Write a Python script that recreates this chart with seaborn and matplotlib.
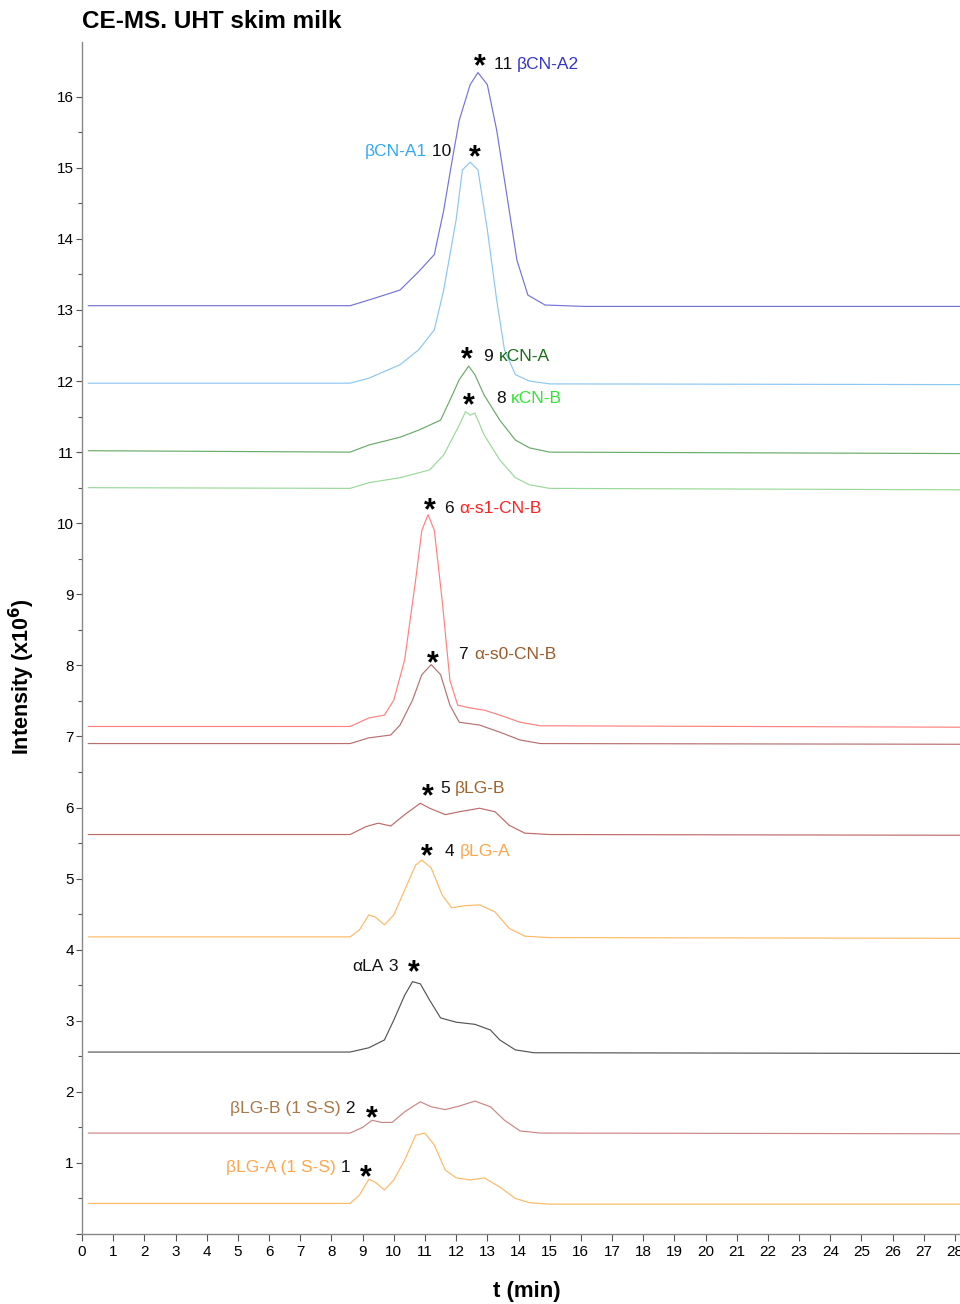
import matplotlib
matplotlib.use("Agg")
import matplotlib.pyplot as plt
import seaborn as sns
import pandas as pd
from matplotlib.offsetbox import TextArea, HPacker, AnnotationBbox

sns.set_theme(style="white")
plt.rcParams['font.family'] = ['Liberation Sans', 'DejaVu Sans']
plt.rcParams['text.color'] = 'black'
plt.rcParams['xtick.color'] = 'black'
plt.rcParams['ytick.color'] = 'black'

# ---- data: (time in min, intensity x1e6) for each trace ----
t11 = [0.2, 8.6, 9.2, 10.2, 10.8, 11.3, 11.6, 11.85, 12.1, 12.45, 12.7, 13.0, 13.3, 13.6, 13.95, 14.3, 14.85, 16.1, 28.2]
y11 = [13.06, 13.06, 13.14, 13.28, 13.54, 13.78, 14.4, 15.05, 15.67, 16.17, 16.34, 16.17, 15.53, 14.69, 13.7, 13.21, 13.07, 13.05, 13.05]

t10 = [0.2, 8.6, 9.2, 10.2, 10.8, 11.3, 11.6, 12.0, 12.2, 12.45, 12.7, 13.0, 13.3, 13.55, 13.9, 14.35, 15.0, 28.2]
y10 = [11.97, 11.97, 12.04, 12.23, 12.44, 12.72, 13.28, 14.27, 14.97, 15.08, 14.97, 14.13, 13.14, 12.44, 12.09, 12.0, 11.96, 11.95]

t9 = [0.2, 8.6, 9.2, 10.2, 10.8, 11.5, 11.8, 12.1, 12.4, 12.6, 12.9, 13.4, 13.9, 14.35, 15.0, 28.2]
y9 = [11.02, 11.0, 11.1, 11.21, 11.31, 11.45, 11.73, 12.02, 12.21, 12.09, 11.8, 11.45, 11.17, 11.06, 11.0, 10.98]

t8 = [0.2, 8.6, 9.2, 10.2, 11.15, 11.6, 12.1, 12.3, 12.45, 12.6, 12.9, 13.4, 13.9, 14.35, 15.0, 28.2]
y8 = [10.5, 10.49, 10.57, 10.64, 10.75, 10.96, 11.38, 11.57, 11.52, 11.55, 11.24, 10.89, 10.64, 10.54, 10.49, 10.47]

t6 = [0.2, 8.6, 9.2, 9.7, 10.0, 10.35, 10.7, 10.9, 11.1, 11.3, 11.55, 11.8, 12.05, 12.45, 12.9, 13.4, 14.05, 14.7, 28.2]
y6 = [7.14, 7.14, 7.26, 7.3, 7.51, 8.08, 9.2, 9.9, 10.12, 9.9, 8.92, 7.79, 7.44, 7.4, 7.37, 7.3, 7.2, 7.15, 7.13]

t7 = [0.2, 8.6, 9.2, 9.9, 10.2, 10.6, 10.9, 11.2, 11.5, 11.8, 12.1, 12.75, 13.4, 14.05, 14.7, 28.2]
y7 = [6.9, 6.9, 6.98, 7.02, 7.16, 7.51, 7.87, 8.01, 7.87, 7.44, 7.2, 7.16, 7.06, 6.95, 6.9, 6.89]

t5 = [0.2, 8.6, 9.1, 9.5, 9.9, 10.35, 10.85, 11.15, 11.65, 12.1, 12.75, 13.25, 13.7, 14.2, 15.0, 28.2]
y5 = [5.62, 5.62, 5.73, 5.78, 5.74, 5.9, 6.06, 5.99, 5.9, 5.94, 5.99, 5.94, 5.75, 5.64, 5.62, 5.61]

t4 = [0.2, 8.6, 8.9, 9.2, 9.4, 9.7, 10.0, 10.35, 10.7, 10.9, 11.2, 11.55, 11.85, 12.3, 12.75, 13.25, 13.7, 14.2, 15.0, 28.2]
y4 = [4.18, 4.18, 4.28, 4.49, 4.46, 4.35, 4.49, 4.84, 5.19, 5.26, 5.15, 4.77, 4.59, 4.62, 4.63, 4.53, 4.3, 4.19, 4.17, 4.16]

t3 = [0.2, 8.6, 9.2, 9.7, 10.0, 10.35, 10.6, 10.85, 11.15, 11.5, 12.0, 12.6, 13.1, 13.4, 13.9, 14.5, 28.2]
y3 = [2.56, 2.56, 2.62, 2.73, 3.01, 3.36, 3.55, 3.52, 3.29, 3.04, 2.98, 2.95, 2.87, 2.73, 2.59, 2.55, 2.54]

t2 = [0.2, 8.6, 9.0, 9.3, 9.6, 9.95, 10.35, 10.85, 11.2, 11.65, 12.1, 12.6, 13.1, 13.55, 14.05, 14.7, 28.2]
y2 = [1.42, 1.42, 1.5, 1.6, 1.57, 1.57, 1.72, 1.86, 1.79, 1.75, 1.8, 1.87, 1.79, 1.6, 1.45, 1.42, 1.41]

t1 = [0.2, 8.6, 8.9, 9.2, 9.4, 9.7, 10.0, 10.35, 10.7, 11.0, 11.3, 11.65, 12.0, 12.45, 12.9, 13.4, 13.9, 14.35, 15.0, 28.2]
y1 = [0.43, 0.43, 0.55, 0.77, 0.73, 0.62, 0.76, 1.04, 1.39, 1.42, 1.25, 0.9, 0.79, 0.76, 0.79, 0.66, 0.5, 0.44, 0.42, 0.42]

trace_colors = ["#7373d9", "#8cc6f2", "#6aaa6a", "#9ad99a", "#ff8080", "#b87070",
                "#c06a6a", "#ffb966", "#555555", "#cc8585", "#ffb966"]
traces = [(t11, y11), (t10, y10), (t9, y9), (t8, y8), (t6, y6), (t7, y7),
          (t5, y5), (t4, y4), (t3, y3), (t2, y2), (t1, y1)]

x_ticks = list(range(0, 29))
y_ticks = list(range(0, 17))

# peak markers (star positions, data coords)
star_t = [12.75, 12.6, 12.35, 12.4, 11.15, 11.25, 11.1, 11.05, 10.65, 9.3, 9.1]
star_y = [16.42, 15.14, 12.29, 11.65, 10.17, 8.02, 6.14, 5.3, 3.67, 1.62, 0.79]

# peak labels: (x, y, [(text, colour), ...], side)
labels = [
    (13.2, 16.45, [("11 ", "#111111"), ("βCN-A2", "#3535cc")], "left"),
    (11.85, 15.23, [("βCN-A1", "#33aaee"), (" 10", "#111111")], "right"),
    (12.9, 12.35, [("9 ", "#111111"), ("κCN-A", "#1a6e1a")], "left"),
    (13.3, 11.75, [("8 ", "#111111"), ("κCN-B", "#33e633")], "left"),
    (11.65, 10.2, [("6 ", "#111111"), ("α-s1-CN-B", "#ff2020")], "left"),
    (12.1, 8.15, [("7 ", "#111111"), ("α-s0-CN-B", "#9c5a2a")], "left"),
    (11.5, 6.27, [("5 ", "#111111"), ("βLG-B", "#a0642c")], "left"),
    (11.65, 5.38, [("4 ", "#111111"), ("βLG-A", "#ffa64d")], "left"),
    (10.15, 3.77, [("αLA", "#111111"), (" 3", "#111111")], "right"),
    (8.77, 1.76, [("βLG-B (1 S-S)", "#a87848"), (" 2", "#111111")], "right"),
    (8.6, 0.94, [("βLG-A (1 S-S)", "#ffa64d"), (" 1", "#111111")], "right"),
]

fig = plt.figure(figsize=(9.6, 13.04), dpi=100)
ax = fig.add_axes([82/960, 1-1234/1304, 1-82/960, (1234-42)/1304])

for (t, y), c in zip(traces, trace_colors):
    df = pd.DataFrame({"t": t, "y": y})
    sns.lineplot(data=df, x="t", y="y", color=c, lw=0.85, ax=ax, sort=False)

ax.set_xlim(0, 28.16)
ax.set_ylim(0, 16.77)
ax.set_xticks(x_ticks)
ax.set_xticklabels([str(v) for v in x_ticks])
ax.set_yticks(y_ticks)
ax.set_yticklabels([""] + [str(v) for v in y_ticks[1:]])
ax.set_yticks([v + 0.5 for v in y_ticks[:-1]], minor=True)
ax.tick_params(axis="x", which="major", direction="out", length=5, width=0.8,
               color="#555555", labelcolor="black", labelsize=11, pad=3, bottom=True)
ax.tick_params(axis="y", which="major", direction="out", length=4, width=0.8,
               color="#555555", labelcolor="black", labelsize=11, pad=2, left=True)
ax.tick_params(axis="y", which="minor", direction="out", length=3, width=0.8,
               color="#555555", left=True)
for lab in ax.get_xticklabels() + ax.get_yticklabels():
    lab.set_fontfamily(['Liberation Sans Narrow', 'Liberation Sans', 'DejaVu Sans'])
for s in ["top", "right"]:
    ax.spines[s].set_visible(False)
for s in ["left", "bottom"]:
    ax.spines[s].set_color("#888888")
    ax.spines[s].set_linewidth(1.0)
ax.set_xlabel("")
ax.set_ylabel("")

for sx, sy in zip(star_t, star_y):
    ax.text(sx, sy, "*", fontsize=22, fontweight="bold", color="black",
            ha="center", va="center")

for lx, ly, parts, side in labels:
    boxes = [TextArea(txt, textprops=dict(color=col, fontsize=12.5)) for txt, col in parts]
    pack = HPacker(children=boxes, align="baseline", pad=0, sep=0)
    box_align = (0, 0.5) if side == "left" else (1, 0.5)
    ab = AnnotationBbox(pack, (lx, ly), xycoords="data", box_alignment=box_align,
                        frameon=False, pad=0)
    ax.add_artist(ab)

fig.text(82/960, 1-22/1304, "CE-MS. UHT skim milk", fontsize=17.5, fontweight="bold",
         color="black", ha="left", va="center")
fig.text(527/960, 1-1291/1304, "t (min)", fontsize=16, fontweight="bold",
         color="black", ha="center", va="center")
fig.text(22/960, 1-677/1304, "Intensity (x10$^{\\mathbf{6}}$)", fontsize=15.5,
         fontweight="bold", color="black", ha="center", va="center", rotation=90)

fig.savefig("out.png", dpi=100)
